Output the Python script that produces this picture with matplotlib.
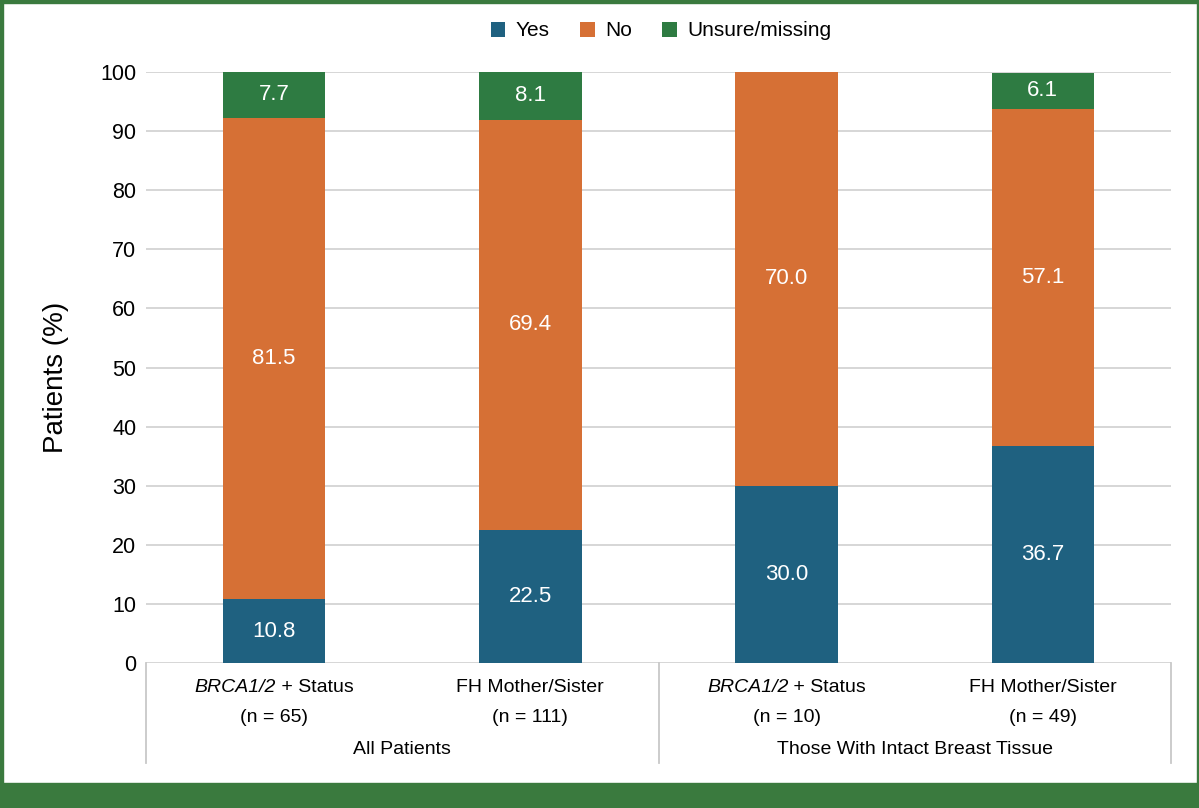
import matplotlib
matplotlib.use("Agg")
import matplotlib.pyplot as plt
from matplotlib.patches import Rectangle
import matplotlib.transforms as mtransforms
import numpy as np

plt.rcParams['font.family'] = ['Liberation Sans', 'DejaVu Sans']

# categories: (italic part, normal part, n-line)
cat_italic = ["BRCA1/2", "", "BRCA1/2", ""]
cat_normal = [" + Status", "FH Mother/Sister", " + Status", "FH Mother/Sister"]
cat_n = ["(n = 65)", "(n = 111)", "(n = 10)", "(n = 49)"]
groups = ["All Patients", "Those With Intact Breast Tissue"]
yes = [10.8, 22.5, 30.0, 36.7]
no = [81.5, 69.4, 70.0, 57.1]
unsure = [7.7, 8.1, 0.0, 6.1]
series_names = ["Yes", "No", "Unsure/missing"]
colors = ["#1F6180", "#D67035", "#2E7B42"]
frame_green = "#3A7A3E"

fig = plt.figure(figsize=(11.99, 8.08), dpi=100)
ax = fig.add_axes([146/1199, 1-663/808, (1171-146)/1199, (663-72)/808])

x = np.arange(len(cat_n))
width = 0.40
bottom = np.zeros(len(cat_n))
for vals, name, c in zip([yes, no, unsure], series_names, colors):
    vals = np.array(vals)
    ax.bar(x, vals, width, bottom=bottom, color=c, label=name, zorder=3)
    for xi, b, v in zip(x, bottom, vals):
        if v > 0:
            ax.text(xi, b + v/2, f"{v:.1f}", ha='center', va='center',
                    color='white', fontsize=16, zorder=4)
    bottom = bottom + vals

ax.set_xlim(-0.5, len(cat_n) - 0.5)
ax.set_ylim(0, 100)
ax.set_yticks(np.arange(0, 101, 10))
ax.yaxis.grid(True, color='#D0D0D0', linewidth=1.2, zorder=0)
ax.set_axisbelow(True)
for s in ax.spines.values():
    s.set_visible(False)
ax.tick_params(axis='y', length=0, labelsize=15.5, pad=7)
ax.tick_params(axis='x', length=0)
ax.set_xticks(x)
ax.set_xticklabels([])

fig.text(56/1199, 1-377/808, "Patients (%)", rotation=90, ha='center',
         va='center', fontsize=20)

# category labels
px = 100/591.0
y1 = -(687-663)*px
y2 = -(717-663)*px
y3 = -(749-663)*px
fs = 14
renderer = fig.canvas.get_renderer()
for xi, it, nm, nl in zip(x, cat_italic, cat_normal, cat_n):
    if it:
        t1 = ax.text(xi, y1, it, ha='left', va='center', fontsize=fs,
                     style='italic', clip_on=False)
        t2 = ax.text(xi, y1, nm, ha='left', va='center', fontsize=fs, clip_on=False)
        w1 = t1.get_window_extent(renderer).width
        w2 = t2.get_window_extent(renderer).width
        tot = w1 + w2
        t1.set_transform(mtransforms.offset_copy(ax.transData, fig=fig,
                                                 x=-tot/2, y=0, units='dots'))
        t2.set_transform(mtransforms.offset_copy(ax.transData, fig=fig,
                                                 x=-tot/2 + w1, y=0, units='dots'))
    else:
        ax.text(xi, y1, nm, ha='center', va='center', fontsize=fs, clip_on=False)
    ax.text(xi, y2, nl, ha='center', va='center', fontsize=fs, clip_on=False)
for gi, g in enumerate(groups):
    ax.text(2*gi + 0.5, y3, g, ha='center', va='center', fontsize=fs, clip_on=False)

# separator lines
for xv in [-0.5, 1.5, 3.5]:
    ax.plot([xv, xv], [0, -(763-663)*px], color='#C8C8C8', lw=1.3,
            clip_on=False, zorder=2)

# legend
handles, labels = ax.get_legend_handles_labels()
fig.legend(handles, labels, loc='center', bbox_to_anchor=(661/1199, 1-31/808),
           ncol=3, frameon=False, fontsize=15, handlelength=0.7,
           handleheight=0.7, handletextpad=0.5, columnspacing=1.45)

# green frame
fig.patches.append(Rectangle((0, 0), 1, 25/808, transform=fig.transFigure,
                             color=frame_green, zorder=0))
fig.patches.append(Rectangle((0, 0), 2.5/1199, 1, transform=fig.transFigure,
                             color=frame_green, zorder=0))
fig.patches.append(Rectangle((1-2.5/1199, 0), 2.5/1199, 1, transform=fig.transFigure,
                             color=frame_green, zorder=0))
fig.patches.append(Rectangle((0, 1-2.5/808), 1, 2.5/808, transform=fig.transFigure,
                             color=frame_green, zorder=0))

fig.savefig("out.png", dpi=100)
